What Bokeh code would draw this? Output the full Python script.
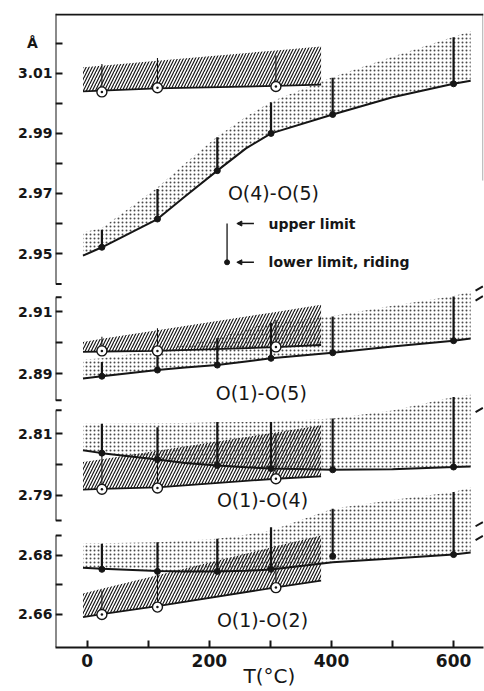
from bokeh.plotting import figure
from bokeh.models import (Range1d, LinearAxis, FixedTicker, Span, Arrow, NormalHead,
                          PrintfTickFormatter)
from bokeh.embed import file_html
from bokeh.resources import INLINE
from bokeh.core.properties import value

FONT = "DejaVu Sans"
INK = "#161616"

# temperatures (deg C)
t_riding = [24, 115, 213, 301, 402, 600]
t_other = [24, 115, 309]
t_band = [-7, 24, 115, 160, 213, 260, 301, 402, 500, 600, 628]
t_hatch = [-7, 24, 115, 309, 383]

names = ["O(4)-O(5)", "O(1)-O(5)", "O(1)-O(4)", "O(1)-O(2)"]

# ---- O(4)-O(5)
o45_riding = [2.9521, 2.9615, 2.9776, 2.9900, 2.9963, 3.0065]
o45_upper = [2.9579, 2.9715, 2.9887, 3.0003, 3.0085, 3.0220]
o45_band_lo = [2.9493, 2.9521, 2.9615, 2.9690, 2.9776, 2.9850, 2.9900, 2.9963, 3.0020, 3.0065, 3.0075]
o45_band_hi = [2.9570, 2.9585, 2.9720, 2.9800, 2.9890, 2.9955, 3.0005, 3.0088, 3.0155, 3.0222, 3.0240]
o45_other = [3.0038, 3.0052, 3.0056]
o45_other_up = [3.0131, 3.0151, 3.0159]
o45_hatch_lo = [3.0040, 3.0042, 3.0050, 3.0058, 3.0062]
o45_hatch_hi = [3.0120, 3.0125, 3.0142, 3.0176, 3.0189]

# ---- O(1)-O(5)
o15_riding = [2.8892, 2.8912, 2.8928, 2.8950, 2.8968, 2.9007]
o15_upper = [2.8938, 2.8972, 2.9015, 2.9065, 2.9085, 2.9150]
o15_band_lo = [2.8885, 2.8892, 2.8912, 2.8920, 2.8928, 2.8940, 2.8950, 2.8968, 2.8988, 2.9007, 2.9014]
o15_band_hi = [2.8945, 2.8950, 2.8975, 2.8993, 2.9015, 2.9045, 2.9065, 2.9087, 2.9120, 2.9152, 2.9166]
o15_other = [2.8974, 2.8974, 2.8987]
o15_other_up = [2.9020, 2.9047, 2.9074]
o15_hatch_lo = [2.8971, 2.8972, 2.8974, 2.8986, 2.8993]
o15_hatch_hi = [2.9003, 2.9013, 2.9041, 2.9100, 2.9123]

# ---- O(1)-O(4)
o14_riding = [2.8037, 2.8016, 2.7997, 2.7987, 2.7983, 2.7992]
o14_upper = [2.8132, 2.8121, 2.8138, 2.8138, 2.8149, 2.8219]
o14_band_lo = [2.8046, 2.8037, 2.8016, 2.8005, 2.7997, 2.7991, 2.7987, 2.7983, 2.7985, 2.7992, 2.7994]
o14_band_hi = [2.8132, 2.8132, 2.8134, 2.8135, 2.8137, 2.8138, 2.8139, 2.8149, 2.8175, 2.8219, 2.8226]
o14_other = [2.7920, 2.7924, 2.7954]
o14_other_up = [2.8035, 2.8018, 2.8100]
o14_hatch_lo = [2.7919, 2.7921, 2.7926, 2.7954, 2.7962]
o14_hatch_hi = [2.8008, 2.8017, 2.8045, 2.8104, 2.8127]

# ---- O(1)-O(2)
o12_riding = [2.6753, 2.6746, 2.6746, 2.6753, 2.6797, 2.6803]
o12_upper = [2.6840, 2.6845, 2.6857, 2.6896, 2.6958, 2.7015]
o12_band_lo = [2.6758, 2.6755, 2.6747, 2.6746, 2.6746, 2.6748, 2.6752, 2.6777, 2.6790, 2.6803, 2.6810]
o12_band_hi = [2.6841, 2.6841, 2.6845, 2.6850, 2.6857, 2.6870, 2.6885, 2.6958, 2.6988, 2.7015, 2.7030]
o12_other = [2.6600, 2.6625, 2.6691]
o12_other_up = [2.6681, 2.6745, 2.6775]
o12_hatch_lo = [2.6591, 2.6601, 2.6628, 2.6692, 2.6715]
o12_hatch_hi = [2.6671, 2.6687, 2.6733, 2.6831, 2.6868]

# axis segments of the broken y axis (one range per panel)
panel_ranges = [(2.8189, 3.0299), (2.8014, 3.0066), (2.7407, 2.9462), (2.6488, 2.8637)]
axis_bounds = [(2.9399, 3.0299), (2.8814, 2.9148), (2.7819, 2.8176), (2.6488, 2.6868)]
major_ticks = [[2.95, 2.97, 2.99, 3.01, 3.02], [2.89, 2.91], [2.79, 2.81], [2.66, 2.68]]
minor_ticks = [[2.96, 2.98, 3.00], [2.90], [2.80], [2.67]]
unit_tick = 3.02
x_major = [0, 200, 400, 600]
x_minor = [100, 300, 500]

label_t = [305, 285, 287, 287]
label_y = [2.9703, 2.8837, 2.7884, 2.6580]

data = [
    (o45_riding, o45_upper, o45_band_lo, o45_band_hi, o45_other, o45_other_up, o45_hatch_lo, o45_hatch_hi),
    (o15_riding, o15_upper, o15_band_lo, o15_band_hi, o15_other, o15_other_up, o15_hatch_lo, o15_hatch_hi),
    (o14_riding, o14_upper, o14_band_lo, o14_band_hi, o14_other, o14_other_up, o14_hatch_lo, o14_hatch_hi),
    (o12_riding, o12_upper, o12_band_lo, o12_band_hi, o12_other, o12_other_up, o12_hatch_lo, o12_hatch_hi),
]

X0, X1 = -52, 649
p = figure(width=484, height=691, output_backend="svg", toolbar_location=None,
           x_range=Range1d(X0, X1), y_range=Range1d(*panel_ranges[3]),
           x_axis_location="below", y_axis_location="left",
           min_border_left=55, min_border_right=1, min_border_top=13, min_border_bottom=44)
p.outline_line_color = None
p.xgrid.visible = False
p.ygrid.visible = False
p.background_fill_color = "white"
p.border_fill_color = "white"
p.extra_y_ranges = {"p%d" % i: Range1d(*panel_ranges[i]) for i in range(3)}
rn = ["p0", "p1", "p2", "default"]


def style_ticks(ax):
    ax.major_tick_in = 7
    ax.major_tick_out = 0
    ax.minor_tick_in = 7
    ax.minor_tick_out = 0
    ax.axis_line_width = 2
    ax.major_tick_line_width = 2
    ax.minor_tick_line_width = 2
    ax.axis_line_color = INK
    ax.major_tick_line_color = INK
    ax.minor_tick_line_color = INK


for i, (rid, up, blo, bhi, oth, othu, hlo, hhi) in enumerate(data):
    r = rn[i]
    # dotted band (riding)
    p.varea(x=t_band, y1=blo, y2=bhi, fill_alpha=0, hatch_pattern=value("dot"),
            hatch_scale=4, hatch_color="#4a4a4a", hatch_weight=1, y_range_name=r)
    # hatched band (other refinement)
    p.varea(x=t_hatch, y1=hlo, y2=hhi, fill_alpha=0, hatch_pattern=value("right_diagonal_line"),
            hatch_scale=6, hatch_color=INK, hatch_weight=1.2, y_range_name=r)
    p.line(t_band, blo, line_color=INK, line_width=2, y_range_name=r)
    p.line(t_hatch, hlo, line_color=INK, line_width=1.8, y_range_name=r)
    p.segment(x0=t_riding, y0=rid, x1=t_riding, y1=up, line_color=INK, line_width=2.2, y_range_name=r)
    p.segment(x0=t_other, y0=oth, x1=t_other, y1=othu, line_color=INK, line_width=1.1, y_range_name=r)
    p.scatter(t_riding, rid, size=6, marker="circle", fill_color=INK, line_color=INK, y_range_name=r)
    p.scatter(t_other, oth, size=10, marker="circle_dot", fill_color="white", line_color=INK,
              line_width=1.4, y_range_name=r)
    p.text(x=[label_t[i]], y=[label_y[i]], text=[names[i]], text_font=value(FONT),
           text_font_size="19px", text_align="center", text_baseline="middle",
           text_color=INK, y_range_name=r)

    # axis piece: rule and ticks
    ax = LinearAxis(y_range_name=r, fixed_location=X0, bounds=axis_bounds[i],
                    ticker=FixedTicker(ticks=major_ticks[i], minor_ticks=minor_ticks[i]),
                    formatter=PrintfTickFormatter(format="%.2f"))
    style_ticks(ax)
    ax.major_label_text_alpha = 0
    p.add_layout(ax, "left")

    # break brackets at the ends of the axis pieces
    ends = []
    if i > 0:
        ends.append(axis_bounds[i][1])
    if i < 3:
        ends.append(axis_bounds[i][0])
    p.segment(x0=[X0] * len(ends), y0=ends, x1=[X0 + 10] * len(ends), y1=ends,
              line_color=INK, line_width=2, y_range_name=r)

# tick labels of all axis pieces, shown by the figure's own left axis
s4, e4 = panel_ranges[3]
label_ticks = []
label_text = {}
for k in range(4):
    sk, ek = panel_ranges[k]
    for v in major_ticks[k]:
        pos = round(s4 + (v - sk) * (e4 - s4) / (ek - sk), 6)
        label_ticks.append(pos)
        label_text[pos] = ("Å\u00a0\u00a0\u00a0" if v == unit_tick else "%.2f" % v)
ya = p.yaxis[0]
ya.ticker = FixedTicker(ticks=label_ticks, minor_ticks=[])
ya.major_label_overrides = label_text
ya.axis_line_color = None
ya.major_tick_line_color = None
ya.minor_tick_line_color = None
ya.major_tick_in = 0
ya.major_tick_out = 0
ya.minor_tick_in = 0
ya.minor_tick_out = 0
ya.major_label_standoff = 3
ya.major_label_text_font = FONT
ya.major_label_text_font_size = "14px"
ya.major_label_text_font_style = "bold"
ya.major_label_text_color = INK

# break marks on the right edge
brk_y0 = [2.9175, 2.9143]
p.segment(x0=[636, 636], y0=[y - 0.0006 for y in brk_y0], x1=[648, 648], y1=[y + 0.0008 for y in brk_y0],
          line_color=INK, line_width=2, y_range_name="p1")
p.segment(x0=[636], y0=[2.8170], x1=[648], y1=[2.8184], line_color=INK, line_width=2, y_range_name="p2")
brk_y3 = [2.6905, 2.6858]
p.segment(x0=[636, 636], y0=[y - 0.0006 for y in brk_y3], x1=[648, 648], y1=[y + 0.0008 for y in brk_y3],
          line_color=INK, line_width=2)

# top frame line and faint right edge
p.add_layout(Span(location=panel_ranges[0][1] - 0.0003, dimension="width", y_range_name="p0",
                  line_color=INK, line_width=2))
p.segment(x0=[648], y0=[2.9743], x1=[648], y1=[panel_ranges[0][1]], line_color="#9a9a9a",
          line_width=1, y_range_name="p0")

# key: upper / lower limit
key_t = [229]
key_hi = [2.9600]
key_lo = [2.9471]
p.segment(x0=key_t, y0=key_lo, x1=key_t, y1=key_hi, line_color=INK, line_width=1.3, y_range_name="p0")
p.scatter(key_t, key_lo, size=5, fill_color=INK, line_color=INK, y_range_name="p0")
for yy in (key_hi[0], key_lo[0]):
    p.add_layout(Arrow(end=NormalHead(size=5, fill_color=INK, line_color=INK), x_start=273, y_start=yy,
                       x_end=245, y_end=yy, line_color=INK, line_width=1.4, y_range_name="p0"))
p.text(x=[297, 297], y=[key_hi[0], key_lo[0]], text=["upper limit", "lower  limit, riding"],
       text_font=value(FONT), text_font_size="14px", text_font_style="bold", text_align="left",
       text_baseline="middle", text_color=INK, y_range_name="p0")

xa = p.xaxis[0]
xa.ticker = FixedTicker(ticks=x_major, minor_ticks=x_minor)
xa.axis_label = "T(°C)"
style_ticks(xa)
xa.major_label_standoff = 6
xa.major_label_text_font = FONT
xa.major_label_text_font_size = "17px"
xa.major_label_text_font_style = "bold"
xa.major_label_text_color = INK
xa.axis_label_text_font = FONT
xa.axis_label_text_font_size = "20px"
xa.axis_label_text_font_style = "normal"
xa.axis_label_text_color = INK
xa.axis_label_standoff = -6

open("out.html", "w").write(file_html(p, INLINE))
